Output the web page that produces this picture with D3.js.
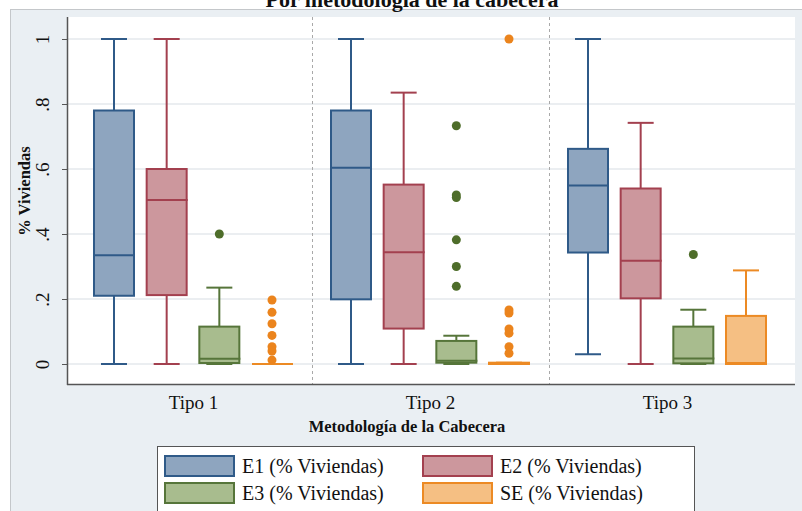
<!DOCTYPE html>
<html lang="es">
<head>
    <meta charset="UTF-8">
    <script src="https://d3js.org/d3.v7.min.js"></script>
    <title>Por metodología de la cabecera</title>
    <style>
      body { margin: 0; background: #fff; }
      svg text { font-family: "Liberation Serif", "Times New Roman", serif; fill: #111; }
    </style>
</head>
<body>
    <div id="container"></div>
<script>
    // categories / series
    var tipos = ["Tipo 1", "Tipo 2", "Tipo 3"];
    var series = ["E1", "E2", "E3", "SE"];
    var legendLabels = ["E1 (% Viviendas)", "E2 (% Viviendas)", "E3 (% Viviendas)", "SE (% Viviendas)"];
    var yTicks = [0, 0.2, 0.4, 0.6, 0.8, 1];
    var yTickLabels = ["0", ".2", ".4", ".6", ".8", "1"];

    // [lower whisker, q1, median, q3, upper whisker] for Tipo 1, 2, 3
    var e1 = [[0, 0.21, 0.335, 0.78, 1], [0, 0.199, 0.604, 0.78, 1], [0.03, 0.343, 0.549, 0.662, 1]];
    var e2 = [[0, 0.212, 0.505, 0.60, 1], [0, 0.109, 0.344, 0.552, 0.835], [0, 0.202, 0.318, 0.540, 0.742]];
    var e3 = [[0, 0.003, 0.016, 0.115, 0.235], [0, 0.004, 0.01, 0.071, 0.087], [0, 0.002, 0.017, 0.115, 0.167]];
    var se = [[0, 0, 0, 0, 0], [0, 0, 0, 0.004, 0.004], [0, 0, 0.003, 0.148, 0.288]];

    // outside values
    var e1Out = [[], [], []];
    var e2Out = [[], [], []];
    var e3Out = [[0.40], [0.733, 0.52, 0.512, 0.382, 0.30, 0.239], [0.337]];
    var seOut = [[0.197, 0.159, 0.124, 0.088, 0.053, 0.04, 0.012], [1, 0.166, 0.157, 0.108, 0.095, 0.053, 0.033], []];

    var stats = {E1: e1, E2: e2, E3: e3, SE: se};
    var outs = {E1: e1Out, E2: e2Out, E3: e3Out, SE: seOut};

    var colors = {
        E1: {fill: "#8ea5bf", stroke: "#2f5a88", dot: "#2f5a88"},
        E2: {fill: "#cc979d", stroke: "#a3404f", dot: "#a3404f"},
        E3: {fill: "#a8bc8e", stroke: "#56753a", dot: "#4e6d2a"},
        SE: {fill: "#f5bf83", stroke: "#ec8a24", dot: "#eb841d"}
    };

    var serif = "'Liberation Serif', 'Times New Roman', serif";

    var width = 802, height = 511,
        plot = {left: 67, top: 17, right: 795, bottom: 385},
        boxW = 40, capW = 26;

    var svg = d3.select("#container").append("svg")
        .attr("width", width).attr("height", height);

    // outer graph region
    svg.append("rect")
        .attr("x", 10.5).attr("y", 9.5)
        .attr("width", 800).attr("height", 510)
        .attr("fill", "#eaeff3").attr("stroke", "#c4c7ca");

    // title (sits mostly above the frame, as in the original)
    svg.append("text")
        .attr("x", 412).attr("y", 7)
        .attr("text-anchor", "middle")
        .style("font-family", serif)
        .style("font-size", "22px").style("font-weight", "bold")
        .text("Por metodología de la cabecera");

    // plot region
    svg.append("rect")
        .attr("x", plot.left).attr("y", plot.top)
        .attr("width", plot.right - plot.left).attr("height", plot.bottom - plot.top)
        .attr("fill", "#fff");

    // scales
    var y = d3.scaleLinear().domain([0, 1]).range([364, 39]);
    var xGroup = d3.scaleBand().domain(tipos).range([74.5, 785.5]);
    var xSeries = d3.scalePoint().domain(series).range([-79, 79]);
    var cx = function(t, s) { return xGroup(t) + xGroup.bandwidth() / 2 + xSeries(s); };

    // grid
    svg.append("g").selectAll("line")
        .data(yTicks).enter().append("line")
        .attr("x1", plot.left).attr("x2", plot.right)
        .attr("y1", function(d) { return y(d); }).attr("y2", function(d) { return y(d); })
        .attr("stroke", "#e5e9ed").attr("stroke-width", 1.5);

    // group separators
    svg.append("g").selectAll("line")
        .data(tipos.slice(1)).enter().append("line")
        .attr("x1", function(d) { return Math.round(xGroup(d)) + 0.5; })
        .attr("x2", function(d) { return Math.round(xGroup(d)) + 0.5; })
        .attr("y1", plot.top).attr("y2", plot.bottom)
        .attr("stroke", "#a9a9a9").attr("stroke-dasharray", "3,3");

    // y axis
    var yAxis = d3.axisLeft(y).tickValues(yTicks).tickSize(5).tickFormat(function(d, i) { return yTickLabels[i]; });
    var yg = svg.append("g").attr("transform", "translate(" + plot.left + ",0)").call(yAxis);
    yg.select(".domain").remove();
    yg.selectAll(".tick line").attr("stroke", "#555");
    yg.selectAll(".tick text")
        .attr("x", null).attr("dy", null)
        .attr("transform", "translate(-18,0) rotate(-90)")
        .attr("text-anchor", "middle")
        .style("font-size", "19px")
        .style("font-family", serif)
        .attr("fill", "#111");

    // x axis
    var xAxis = d3.axisBottom(d3.scalePoint().domain(tipos).range([xGroup(tipos[0]) + xGroup.bandwidth() / 2, xGroup(tipos[2]) + xGroup.bandwidth() / 2])).tickSize(0);
    var xg = svg.append("g").attr("transform", "translate(0," + plot.bottom + ")").call(xAxis);
    xg.select(".domain").remove();
    xg.selectAll(".tick text")
        .attr("dy", null).attr("y", 24)
        .style("font-size", "19px")
        .style("font-family", serif)
        .attr("fill", "#111");

    // axis lines
    svg.append("line")
        .attr("x1", plot.left + 0.5).attr("x2", plot.left + 0.5)
        .attr("y1", plot.top).attr("y2", plot.bottom)
        .attr("stroke", "#555").attr("stroke-width", 1.5);
    svg.append("line")
        .attr("x1", plot.left).attr("x2", plot.right)
        .attr("y1", plot.bottom - 0.5).attr("y2", plot.bottom - 0.5)
        .attr("stroke", "#555").attr("stroke-width", 1.5);

    // axis titles
    svg.append("text")
        .attr("transform", "translate(30,191) rotate(-90)")
        .attr("text-anchor", "middle")
        .style("font-family", serif)
        .style("font-size", "16.5px").style("font-weight", "bold")
        .text("% Viviendas");
    svg.append("text")
        .attr("x", 407).attr("y", 432)
        .attr("text-anchor", "middle")
        .style("font-family", serif)
        .style("font-size", "16.5px").style("font-weight", "bold")
        .text("Metodología de la Cabecera");

    // boxes
    var boxData = [];
    tipos.forEach(function(t, i) {
        series.forEach(function(s) {
            var v = stats[s][i];
            boxData.push({tipo: t, s: s, lo: v[0], q1: v[1], med: v[2], q3: v[3], hi: v[4], out: outs[s][i]});
        });
    });

    var box = svg.append("g").selectAll(".box")
        .data(boxData).enter().append("g")
        .attr("class", "box")
        .attr("transform", function(d) { return "translate(" + cx(d.tipo, d.s) + ",0)"; });

    // whiskers
    box.append("line")
        .attr("y1", function(d) { return y(d.q3); }).attr("y2", function(d) { return y(d.hi); })
        .attr("stroke", function(d) { return colors[d.s].stroke; }).attr("stroke-width", 2);
    box.append("line")
        .attr("y1", function(d) { return y(d.q1); }).attr("y2", function(d) { return y(d.lo); })
        .attr("stroke", function(d) { return colors[d.s].stroke; }).attr("stroke-width", 2);
    box.append("line")
        .attr("x1", -capW / 2).attr("x2", capW / 2)
        .attr("y1", function(d) { return y(d.hi); }).attr("y2", function(d) { return y(d.hi); })
        .attr("stroke", function(d) { return colors[d.s].stroke; }).attr("stroke-width", 2);
    box.append("line")
        .attr("x1", -capW / 2).attr("x2", capW / 2)
        .attr("y1", function(d) { return y(d.lo); }).attr("y2", function(d) { return y(d.lo); })
        .attr("stroke", function(d) { return colors[d.s].stroke; }).attr("stroke-width", 2);

    // box body
    box.append("rect")
        .attr("x", -boxW / 2).attr("width", boxW)
        .attr("y", function(d) { return y(d.q3); })
        .attr("height", function(d) { return y(d.q1) - y(d.q3); })
        .attr("fill", function(d) { return colors[d.s].fill; })
        .attr("stroke", function(d) { return colors[d.s].stroke; }).attr("stroke-width", 2);

    // median
    box.append("line")
        .attr("x1", -boxW / 2).attr("x2", boxW / 2 + 1)
        .attr("y1", function(d) { return y(d.med); }).attr("y2", function(d) { return y(d.med); })
        .attr("stroke", function(d) { return colors[d.s].stroke; }).attr("stroke-width", 2);

    // outside values
    box.selectAll("circle")
        .data(function(d) { return d.out.map(function(v) { return {v: v, s: d.s}; }); })
        .enter().append("circle")
        .attr("cy", function(d) { return y(d.v); })
        .attr("r", 4.5)
        .attr("fill", function(d) { return colors[d.s].dot; });

    // legend
    var legend = svg.append("g");
    legend.append("rect")
        .attr("x", 157.5).attr("y", 446.5)
        .attr("width", 537).attr("height", 80)
        .attr("fill", "#fff").attr("stroke", "#555");
    var leg = legend.selectAll(".leg")
        .data(series).enter().append("g")
        .attr("class", "leg")
        .attr("transform", function(d, i) { return "translate(" + (165 + (i % 2) * 258) + "," + (456 + Math.floor(i / 2) * 27) + ")"; });
    leg.append("rect")
        .attr("width", 69).attr("height", 20)
        .attr("fill", function(d) { return colors[d].fill; })
        .attr("stroke", function(d) { return colors[d].stroke; }).attr("stroke-width", 2);
    leg.append("text")
        .attr("x", 77).attr("y", 17)
        .style("font-family", serif)
        .style("font-size", "20px")
        .text(function(d, i) { return legendLabels[i]; });
</script>
</body>
</html>
